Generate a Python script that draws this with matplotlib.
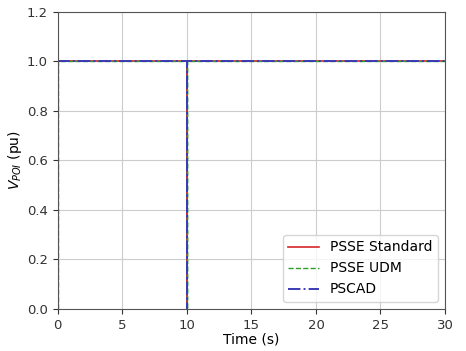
import matplotlib
matplotlib.use("Agg")
from matplotlib import pyplot as plt

# time (s) and POI voltage (pu) for each model
t_std = [0, 0, 10, 10, 10, 30]
v_std = [0, 1.0, 1.0, 0.0, 1.0, 1.0]
t_udm = [0, 0, 10, 10, 10, 30]
v_udm = [0, 1.0, 1.0, 0.0, 1.0, 1.0]
t_pscad = [0, 0, 10, 10, 10, 30]
v_pscad = [0, 1.0, 1.0, 0.0, 1.0, 1.0]

fig = plt.figure(figsize=(4.66, 3.51), dpi=100)
ax = fig.add_axes([0.124, 0.12, 0.831, 0.846])

ax.plot(t_std, v_std, color="#d62728", lw=1.2, label="PSSE Standard")
ax.plot(t_udm, v_udm, color="#2ca02c", lw=1.0, ls="--", label="PSSE UDM")
ax.plot(t_pscad, v_pscad, color="#3b3bb5", lw=1.4, ls="-.", label="PSCAD")

ax.set_xlim(0, 30)
ax.set_ylim(0, 1.2)
ax.set_xticks([0, 5, 10, 15, 20, 25, 30])
ax.set_yticks([0.0, 0.2, 0.4, 0.6, 0.8, 1.0, 1.2])
ax.grid(True, color="#cccccc", lw=0.8)
ax.tick_params(labelsize=9.5, colors="#333333")
for s in ax.spines.values():
    s.set_color("#555555")

ax.set_xlabel("Time (s)", fontsize=10, labelpad=1)
ax.set_ylabel("$V_{POI}$ (pu)", fontsize=10, labelpad=2)
ax.legend(loc="lower right", fontsize=10, handlelength=2.2)

fig.savefig("out.png", dpi=100)
